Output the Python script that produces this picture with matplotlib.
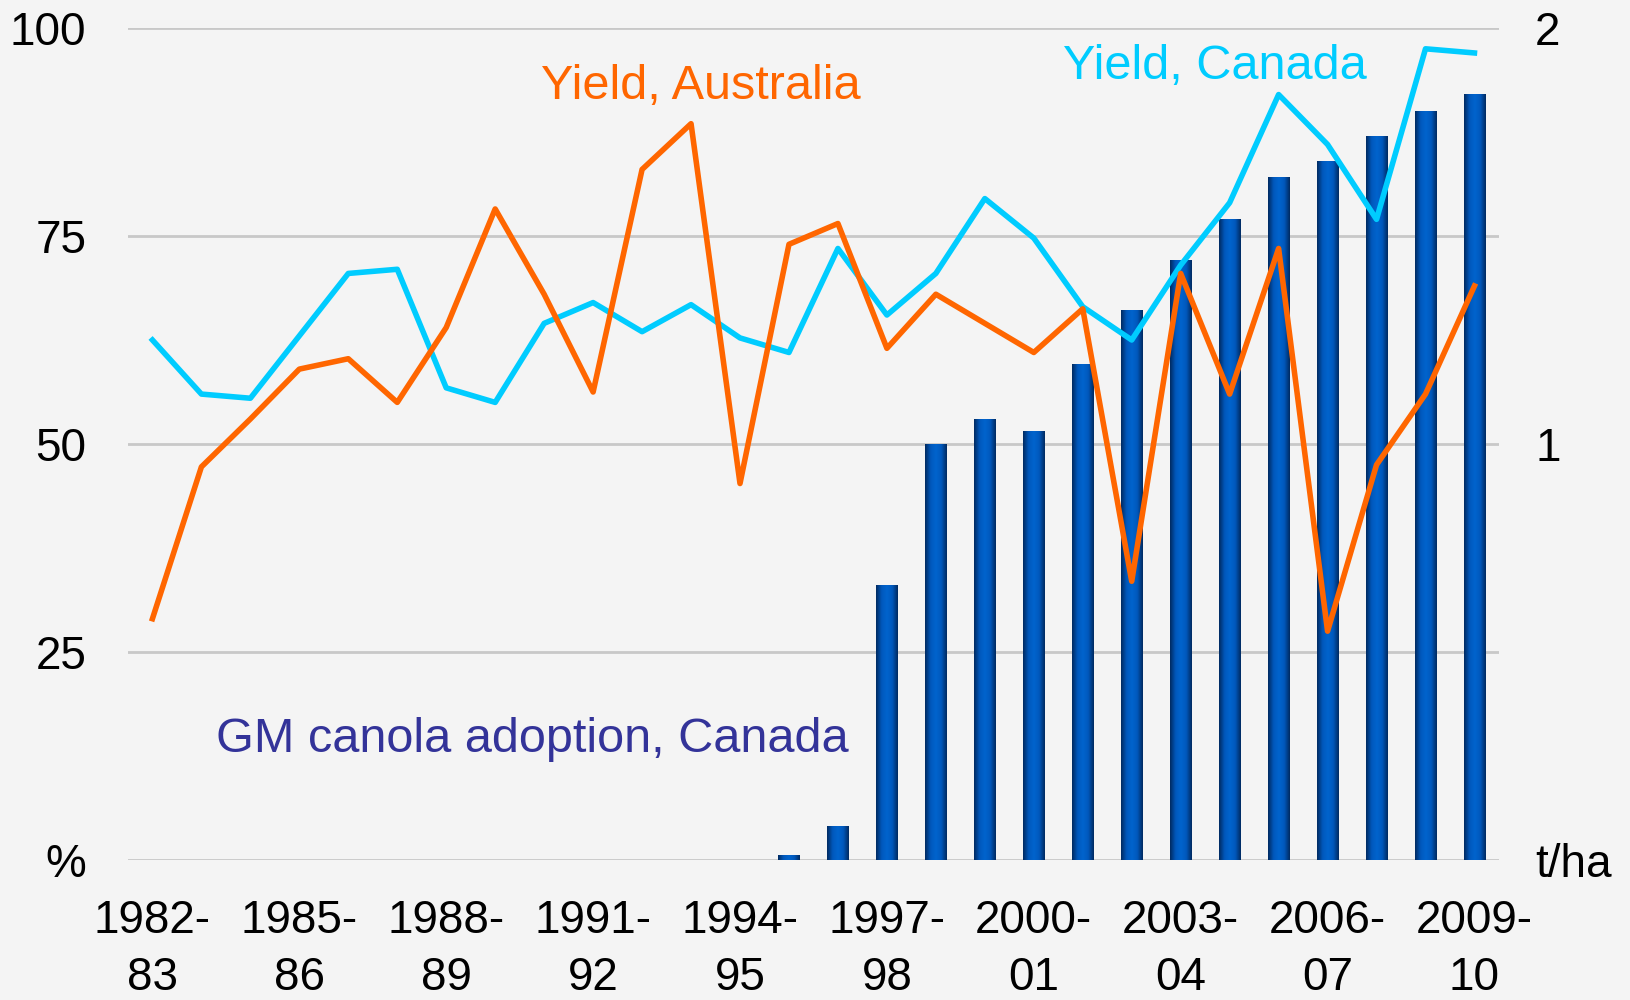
import numpy as np
import matplotlib.pyplot as plt
from matplotlib.colors import LinearSegmentedColormap

plt.rcParams['font.family'] = ['Liberation Sans', 'DejaVu Sans']

# seasons 1982-83 .. 2009-10
seasons = [f'{y}-\n{str(y + 1)[-2:]}' for y in range(1982, 2010)]

# GM canola adoption in Canada, % (starts 1995-96)
gm_adoption = [0] * 13 + [0.5, 4, 33, 50, 53, 51.5, 59.5, 66, 72, 77, 82, 84, 87, 90, 92]

# yields, t/ha
yield_canada = [1.25, 1.12, 1.11, 1.26, 1.41, 1.42, 1.135, 1.10, 1.29, 1.34,
                1.27, 1.335, 1.255, 1.22, 1.47, 1.31, 1.41, 1.59, 1.495, 1.33,
                1.25, 1.43, 1.58, 1.84, 1.72, 1.54, 1.95, 1.94]
yield_australia = [0.58, 0.945, 1.06, 1.18, 1.205, 1.10, 1.28, 1.565, 1.36, 1.125,
                   1.66, 1.77, 0.905, 1.48, 1.53, 1.23, 1.36, 1.29, 1.22, 1.325,
                   0.67, 1.41, 1.12, 1.47, 0.55, 0.95, 1.12, 1.38]

bg = '#F4F4F4'
orange = '#FF6600'
cyan = '#00CCFF'
fs = 33

fig = plt.figure(figsize=(16.3, 10), dpi=100, facecolor=bg)
ax = fig.add_axes([0.0785, 0.14, 0.8411, 0.832])
ax.set_facecolor(bg)
x = np.arange(len(seasons))

# bars with a horizontal shading (dark edges, bright centre)
cmap = LinearSegmentedColormap.from_list('bar', ['#002A60', '#0058BC', '#0064CE', '#0058BC', '#002A60'])
grad = np.linspace(0, 1, 64).reshape(1, -1)
w = 0.43
for xi, v in zip(x, gm_adoption):
    if v <= 0:
        continue
    ax.imshow(grad, cmap=cmap, aspect='auto', extent=[xi - w / 2, xi + w / 2, 0, v],
              zorder=2, interpolation='bicubic')

ax.set_xlim(-0.5, len(seasons) - 0.5)
ax.set_ylim(0, 100)
ax.set_yticks([0, 25, 50, 75, 100])
ax.set_yticklabels(['%', '25', '50', '75', '100'])
ax.yaxis.grid(True, color='#C8C8C8', linewidth=2)
ax.set_axisbelow(True)
ax.set_xticks(x[::3])
ax.set_xticklabels([seasons[i] for i in x[::3]], linespacing=1.4)
ax.tick_params(axis='y', length=0, pad=30, labelsize=fs)
ax.tick_params(axis='x', length=0, pad=28, labelsize=fs)
for s in ax.spines.values():
    s.set_visible(False)

ax2 = ax.twinx()
ax2.plot(x, yield_canada, color=cyan, linewidth=4, zorder=3)
ax2.plot(x, yield_australia, color=orange, linewidth=4, zorder=3)
ax2.set_ylim(0, 2)
ax2.set_yticks([0, 1, 2])
ax2.set_yticklabels(['t/ha', '1', '2'])
ax2.tick_params(axis='y', length=0, pad=26, labelsize=fs)
for s in ax2.spines.values():
    s.set_visible(False)

ax.text(11.2, 93, 'Yield, Australia', color=orange, fontsize=35, ha='center', va='center')
ax.text(21.7, 95.4, 'Yield, Canada', color=cyan, fontsize=35, ha='center', va='center')
ax.text(7.75, 14.5, 'GM canola adoption, Canada', color='#333399', fontsize=35,
        ha='center', va='center')

fig.savefig('out.png', dpi=100, facecolor=bg)
